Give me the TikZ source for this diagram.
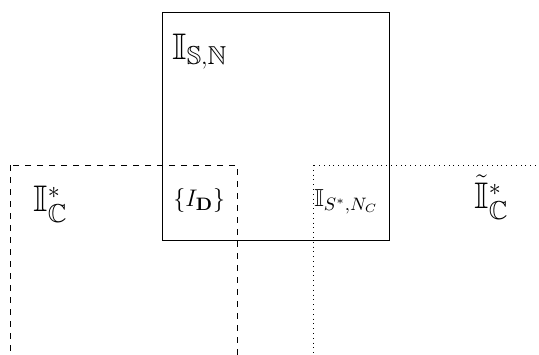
\documentclass[tikz,border=0pt]{standalone}
\usepackage{amsmath,amssymb}
\usepackage{tikz}
\definecolor{framegray}{HTML}{000000}
\newcommand{\biglabel}{\fontsize{18.5}{22}\selectfont}
\newcommand{\smalllabel}{\fontsize{12.3}{15}\selectfont}

\begin{document}
\begin{tikzpicture}[x=0.5pt,y=-0.5pt]
  \useasboundingbox (0,0) rectangle (539,354);
  \clip (0,0) rectangle (539,354);
  % three overlapping regions
  \draw[framegray] (162.5,12.5) rectangle (389,240);
  \draw[dashed] (10,165) rectangle (237.5,380);
  \draw[dotted] (313.5,165) rectangle (560,380);
  % labels
  \node[anchor=base west,inner sep=0pt] (isn) at (172,59) {\biglabel$\mathbb{I}_{\mathbb{S},\mathbb{N}}$};
  \node[anchor=base west,inner sep=0pt] (icstar) at (33,211) {\biglabel$\mathbb{I}^*_{\mathbb{C}}$};
  \node[anchor=base west,inner sep=0pt] (idset) at (173,206) {\smalllabel$\{I_{\mathbf{D}}\}$};
  \node[anchor=base west,inner sep=0pt] (isnc) at (314,206) {\smalllabel$\mathbb{I}_{S^*,N_C}$};
  \node[anchor=base west,inner sep=0pt] (ictilde) at (474,208) {\biglabel$\tilde{\mathbb{I}}^*_{\mathbb{C}}$};
\end{tikzpicture}
\end{document}
